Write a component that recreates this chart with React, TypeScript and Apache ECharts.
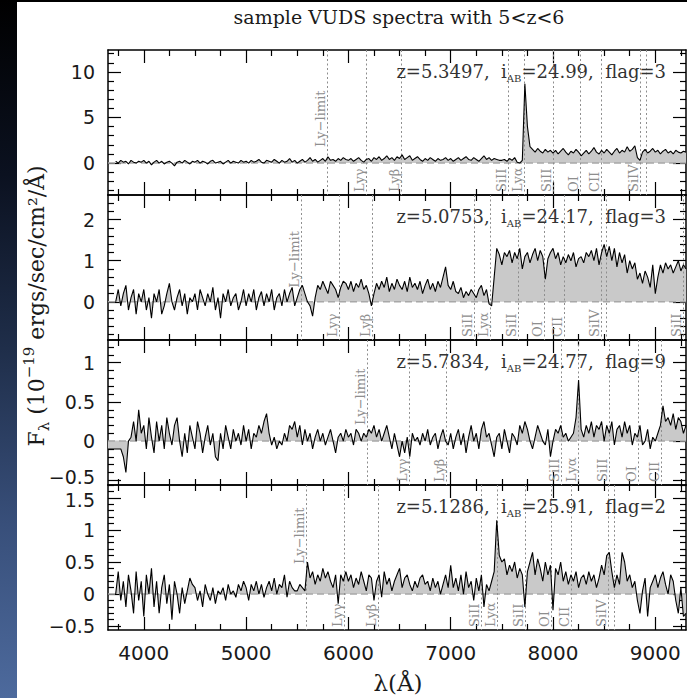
import React, { useEffect, useRef } from "react";
import * as echarts from "echarts";

// ---------------- data ----------------
const WAVE_STEP = 25;
const X_MIN = 3650;
const X_MAX = 9300;

const redshifts = [5.3497, 5.0753, 5.7834, 5.1286];
const magnitudes = ["24.99", "24.17", "24.77", "25.91"];
const flags = ["3", "3", "9", "2"];
const waveStarts = [3725, 3725, 3650, 3725];

const lineNames = ["Ly−limit", "Lyγ", "Lyβ", "SiII", "Lyα", "SiII", "OI", "CII", "SiIV", "", "SiII"];
const lineRest = [912, 972.5, 1025.7, 1190.4, 1215.7, 1260.4, 1302.2, 1334.5, 1393.8, 1402.8, 1526.7];

const xTickMajor = [4000, 5000, 6000, 7000, 8000, 9000];
const xTickMinor = [3750, 4250, 4500, 4750, 5250, 5500, 5750, 6250, 6500, 6750, 7250, 7500, 7750, 8250, 8500, 8750, 9250];

const yRanges = [
  [-3.5, 12.4],
  [-0.93, 2.6],
  [-0.56, 1.29],
  [-0.56, 1.7],
];
const yTickMajor = [
  [0, 5, 10],
  [0, 1, 2],
  [-0.5, 0, 0.5, 1],
  [-0.5, 0, 0.5, 1, 1.5],
];
const yTickMinor = [
  [-3, -2, -1, 1, 2, 3, 4, 6, 7, 8, 9, 11, 12],
  [-0.8, -0.6, -0.4, -0.2, 0.2, 0.4, 0.6, 0.8, 1.2, 1.4, 1.6, 1.8, 2.2, 2.4],
  [-0.4, -0.3, -0.2, -0.1, 0.1, 0.2, 0.3, 0.4, 0.6, 0.7, 0.8, 0.9, 1.1, 1.2],
  [-0.4, -0.3, -0.2, -0.1, 0.1, 0.2, 0.3, 0.4, 0.6, 0.7, 0.8, 0.9, 1.1, 1.2, 1.3, 1.4, 1.6, 1.7],
];

const flux1 = [
  0.2, 0.0, 0.3, 0.1, 0.2, -0.1, 0.3, 0.1, 0.0, 0.2, 0.1,
  0.3, 0.0, 0.2, -0.2, 0.1, 0.3, 0.0, 0.2, -0.1, 0.1,
  0.2, 0.0, -0.3, 0.1, 0.2, 0.0, 0.3, 0.1, -0.1, 0.2,
  0.1, 0.3, 0.0, 0.2, 0.1, -0.1, 0.2, 0.3, 0.0, 0.1,
  0.2, -0.1, 0.1, 0.3, 0.0, 0.2, 0.1, 0.0, 0.3, 0.1,
  0.2, 0.0, 0.3, 0.1, 0.2, 0.4, 0.1, 0.0, 0.3, 0.2,
  0.1, 0.4, 0.2, 0.0, 0.3, 0.1, 0.2, 0.5, 0.1, 0.3,
  0.0, 0.2, 0.4, 0.1, 0.3, 0.6, 0.2, 0.4, 0.1, 0.3,
  0.5, 0.2, 0.7, 0.3, 0.4, 0.2, 0.5, 0.3, 0.6, 0.4,
  0.3, 0.5, 0.2, 0.4, 0.6, 0.3, 0.1, 0.4, 0.5, 0.2,
  0.6, 0.4, 0.7, 0.3, 0.5, 0.8, 0.4, 0.6, 0.3, 0.7,
  0.5, 0.9, 0.4, 0.6, 0.8, 0.3, 0.5, 0.7, 0.4, 0.2,
  0.5, 0.3, 0.6, 0.4, 0.2, 0.5, 0.3, 0.4, 0.6, 0.3,
  0.5, 0.2, 0.4, 0.6, 0.3, 0.5, 0.7, 0.4, 0.3, 0.6,
  0.4, 0.2, 0.5, 0.8, 0.4, 0.6, 0.3, 0.5, 0.4, 0.3,
  0.3, 0.4, 0.2, 0.5, 0.3, 0.6, 0.1, 0.0, 0.3, 8.7,
  4.0, 1.8, 1.5, 1.2, 1.6, 1.3, 1.1, 1.5, 1.2, 1.4,
  1.1, 1.4, 1.0, 1.3, 1.6, 1.2, 0.9, 1.3, 1.1, 1.5,
  1.2, 0.8, 1.1, 1.4, 1.0, 1.3, 1.7, 1.2, 1.0, 1.4,
  1.1, 1.5, 1.2, 0.9, 1.3, 1.6, 1.1, 1.4, 1.2, 1.8,
  1.3, 1.5, 1.9, 0.6, 0.3, 1.2, 1.5, 1.1, 1.3, 1.6,
  1.2, 1.4, 1.0, 1.3, 1.5, 1.1, 1.3, 1.0, 1.4, 1.2, 1.1, 1.3, 1.2,
];

const flux2 = [
  0.0, 0.3, -0.1, 0.2, 0.4, -0.2, 0.1, 0.3, -0.3, 0.2, 0.0,
  0.3, -0.2, 0.1, -0.4, 0.2, 0.0, 0.3, -0.3, -0.1, 0.2,
  0.45, 0.0, -0.2, 0.1, 0.3, -0.1, 0.2, -0.3, 0.1, 0.0,
  0.2, -0.2, 0.3, 0.1, -0.1, 0.2, 0.0, 0.35, -0.2, 0.1,
  -0.4, 0.2, 0.0, 0.3, -0.1, 0.1, 0.2, -0.2, 0.0, 0.3,
  -0.1, 0.2, 0.0, 0.3, -0.2, 0.1, 0.25, -0.1, 0.2, 0.0,
  0.3, -0.2, 0.1, 0.2, -0.1, 0.3, 0.0, 0.2, 0.35, -0.1,
  0.1, 0.3, 0.4, 0.2, 0.0, -0.1, -0.35, 0.1, 0.4, 0.3,
  0.5, 0.35, 0.2, 0.5, 0.4, 0.3, 0.1, 0.35, 0.5, 0.45,
  0.3, 0.5, 0.25, 0.45, 0.35, 0.55, 0.3, 0.4, 0.2, -0.1,
  0.2, 0.45, 0.3, 0.5, 0.35, 0.6, 0.25, 0.45, 0.3, 0.55,
  0.4, 0.3, 0.5, 0.25, 0.6, 0.35, 0.45, 0.3, 0.5, 0.2,
  0.4, 0.55, 0.3, 0.45, 0.25, 0.5, 0.35, 0.6, 0.85, 0.4,
  0.3, 0.5, 0.25, 0.2, 0.35, 0.1, 0.25, 0.15, 0.3, 0.2,
  0.1, 0.3, 0.4, 0.15, 0.3, -0.05, -0.1, 0.6, 1.3, 1.15,
  0.9, 1.2, 1.1, 1.25, 0.95, 1.2, 1.05, 1.3, 0.8, 1.1,
  1.2, 0.95, 1.15, 1.3, 1.0, 1.25, 1.1, 0.55, 1.05, 1.2,
  1.3, 1.05, 1.2, 0.9, 1.1, 0.95, 1.15, 1.0, 1.2, 0.85,
  1.05, 1.1, 0.95, 1.2, 1.1, 1.25, 1.0, 1.3, 0.9, 1.2,
  1.4, 1.1, 1.35, 1.0, 1.3, 0.85, 1.2, 0.95, 1.15, 0.7,
  1.0, 0.8, 0.95, 0.55, 0.7, 0.45, 0.75, 0.6, 0.35, 0.9,
  0.2, 0.6, 0.9, 0.7, 0.95, 0.8, 0.9, 0.7, 0.85, 1.0, 0.75, 0.9, 0.8,
];

const flux3 = [
  -0.1, -0.1, -0.1, -0.1, -0.1, -0.1, -0.2, -0.4, 0.0, 0.05, 0.25, 0.0, 0.4, 0.1,
  0.2, -0.1, 0.3, 0.05, -0.15, 0.25, 0.0, 0.2, -0.1, 0.3,
  0.1, -0.05, 0.2, 0.3, 0.0, -0.2, 0.1, -0.15, 0.2, 0.05,
  -0.1, 0.25, 0.1, -0.15, 0.05, 0.2, -0.05, 0.1, -0.2, -0.25,
  0.1, -0.1, 0.2, 0.05, -0.1, 0.15, 0.0, 0.1, -0.05, 0.2,
  0.0, 0.15, -0.1, 0.1, 0.05, 0.2, 0.1, 0.25, 0.35, 0.1,
  -0.05, 0.05, -0.1, 0.0, -0.05, 0.1, 0.0, 0.2, 0.15, 0.25,
  0.05, 0.2, -0.05, 0.15, 0.0, 0.1, -0.1, 0.05, 0.15, 0.0,
  0.1, -0.05, 0.05, 0.15, 0.0, -0.15, 0.05, 0.1, 0.0, 0.15,
  0.05, 0.1, -0.05, 0.15, 0.1, 0.0, 0.1, 0.05, 0.15, 0.1,
  0.2, 0.05, 0.15, 0.0, 0.1, 0.2, 0.05, -0.1, 0.1, -0.05,
  -0.2, 0.0, -0.15, 0.05, -0.2, 0.1, 0.0, 0.05, -0.05, 0.1,
  0.0, 0.15, -0.05, 0.05, 0.1, -0.1, 0.05, 0.15, 0.0, -0.05,
  0.1, -0.1, 0.05, 0.15, -0.05, 0.1, -0.15, 0.05, 0.2, 0.0,
  0.1, -0.1, 0.15, 0.25, 0.05, 0.1, -0.05, -0.2, 0.05, 0.1,
  -0.1, 0.15, 0.0, -0.15, 0.1, 0.05, -0.05, 0.2, 0.1, 0.25,
  0.15, 0.0, -0.1, 0.05, 0.2, 0.1, 0.0, -0.05, 0.15, -0.2,
  0.0, 0.15, 0.1, 0.2, 0.05, 0.1, 0.0, 0.05, 0.1, 0.3,
  0.78, 0.15, 0.05, 0.2, 0.1, 0.25, 0.05, 0.2, 0.15, 0.25,
  0.0, 0.2, 0.1, 0.25, -0.05, 0.15, 0.2, 0.05, 0.25, 0.1,
  0.2, -0.05, 0.1, 0.05, 0.2, -0.05, 0.0, 0.15, -0.1, 0.05,
  0.0, 0.1, 0.2, 0.45, 0.25, 0.3, 0.2, 0.35, 0.15, 0.3, 0.25, 0.1, 0.2,
];

const flux4 = [
  0.0, 0.35, -0.1, 0.2, -0.2, 0.3, 0.05, -0.3, 0.35, -0.1, 0.2,
  -0.35, 0.3, 0.0, 0.4, -0.2, 0.2, -0.3, 0.1, 0.3, -0.15,
  0.15, -0.4, 0.2, 0.0, -0.3, 0.1, -0.15, 0.05, 0.25, 0.15,
  0.1, -0.1, 0.05, -0.2, 0.15, 0.0, -0.1, 0.1, -0.15, 0.05,
  0.0, 0.1, -0.1, 0.15, 0.0, 0.05, -0.05, 0.15, 0.05, 0.2,
  0.1, -0.1, 0.15, 0.05, 0.2, 0.0, 0.15, -0.05, 0.1, 0.2,
  0.05, 0.25, 0.0, 0.15, 0.1, 0.3, -0.05, 0.2, 0.1, 0.05,
  0.05, 0.15, 0.1, 0.05, 0.5, 0.25, 0.35, 0.15, 0.3, 0.2,
  0.4, 0.25, 0.35, 0.2, 0.1, 0.3, -0.15, 0.3, 0.2, 0.35,
  0.2, 0.3, 0.1, 0.25, 0.15, 0.35, 0.2, 0.05, 0.3, 0.25,
  -0.1, 0.2, 0.3, -0.05, 0.35, 0.15, 0.25, 0.05, 0.2, 0.3,
  0.4, 0.1, 0.25, 0.3, 0.15, 0.05, 0.2, 0.1, 0.25, 0.3,
  0.15, 0.2, 0.05, 0.25, 0.1, 0.2, 0.0, 0.15, 0.3, 0.1,
  0.45, 0.1, 0.25, 0.05, 0.3, 0.0, 0.35, 0.1, 0.2, -0.1,
  0.25, 0.05, 0.3, -0.2, 0.15, 0.05, 0.2, 0.35, 1.15, 0.6,
  0.5, 0.55, 0.3, 0.45, 0.35, 0.5, 0.25, 0.4, 0.3, -0.2,
  0.35, 0.5, 0.65, 0.3, 0.55, 0.4, 0.2, 0.5, 0.3, 0.45,
  -0.25, 0.4, 0.3, 0.5, 0.2, 0.35, 0.15, 0.3, 0.2, 0.35,
  0.1, 0.25, 0.3, 0.15, 0.35, 0.2, 0.3, 0.1, 0.25, 0.45,
  0.3, 0.6, 0.65, 0.35, 0.1, 0.3, 0.15, 0.65, 0.5, 0.2,
  0.3, 0.1, 0.2, -0.1, -0.3, 0.05, 0.25, -0.35, 0.1, 0.2,
  0.3, 0.1, 0.25, 0.35, 0.15, 0.0, 0.3, 0.2, -0.1, -0.3, 0.1, -0.35, -0.3,
];

const fluxes = [flux1, flux2, flux3, flux4];

// ---------------- layout / style ----------------
const GRID_LEFT = 108;
const GRID_WIDTH = 578;
const GRID_TOP = 50;
const PANEL_H = 145;
const LIMIT_LABEL_LIFT = [16, 14, 16, 30];
const SERIF = '"DejaVu Serif", "Liberation Serif", serif';
const SANS = '"DejaVu Sans", "Liberation Sans", sans-serif';
const LINE_GRAY = "#8e8e8e";
const TEXT_DARK = "#1a1a1a";
const Y_LABEL_SIZE = 19;

const fmt = (v: number) => (v < 0 ? "−" + String(Math.abs(v)) : String(v));

function buildOption() {
  const grid: any[] = [];
  const xAxis: any[] = [];
  const yAxis: any[] = [];
  const series: any[] = [];

  for (let g = 0; g < 4; g++) {
    grid.push({ left: GRID_LEFT, width: GRID_WIDTH, top: GRID_TOP + g * PANEL_H, height: PANEL_H });
    const tickStyle = { color: "#000", width: 1.2 };
    const xBase = { gridIndex: g, type: "value", min: X_MIN, max: X_MAX, splitLine: { show: false } };
    (["bottom", "top"] as const).forEach((pos) => {
      xAxis.push({
        ...xBase,
        position: pos,
        axisLine: { show: true, onZero: false, lineStyle: { color: "#000", width: 1.5 } },
        axisTick: { show: true, inside: true, length: 13, customValues: xTickMajor, lineStyle: tickStyle },
        axisLabel: {
          show: pos === "bottom" && g === 3,
          customValues: xTickMajor,
          formatter: (v: number) => String(v),
          margin: 13,
          color: TEXT_DARK,
          fontSize: 20,
          fontFamily: SANS,
        },
      });
      xAxis.push({
        ...xBase,
        position: pos,
        axisLine: { show: false, onZero: false },
        axisTick: { show: true, inside: true, length: 6, customValues: xTickMinor, lineStyle: tickStyle },
        axisLabel: { show: false },
      });
    });
    const [yMin, yMax] = yRanges[g];
    const span = yMax - yMin;
    const yBase = { gridIndex: g, type: "value", min: yMin, max: yMax, splitLine: { show: false } };
    const labelFmt = (v: number) => {
      const s = fmt(v);
      const fromBottom = ((v - yMin) / span) * PANEL_H;
      const fromTop = ((yMax - v) / span) * PANEL_H;
      if (g < 3 && fromBottom < 9) return `{lo|${s}}`;
      if (g > 0 && fromTop < 14) return `{hi|${s}}`;
      return s;
    };
    const tokenBase = { fontSize: Y_LABEL_SIZE, fontFamily: SANS, color: TEXT_DARK };
    (["left", "right"] as const).forEach((pos) => {
      yAxis.push({
        ...yBase,
        position: pos,
        axisLine: { show: true, onZero: false, lineStyle: { color: "#000", width: 1.5 } },
        axisTick: { show: true, inside: true, length: 13, customValues: yTickMajor[g], lineStyle: tickStyle },
        axisLabel: {
          show: pos === "left",
          customValues: yTickMajor[g],
          formatter: labelFmt,
          margin: 13,
          color: TEXT_DARK,
          fontSize: Y_LABEL_SIZE,
          fontFamily: SANS,
          rich: {
            lo: { ...tokenBase, padding: [0, 0, 6, 0] },
            hi: { ...tokenBase, padding: [5, 0, 0, 0] },
          },
        },
      });
      yAxis.push({
        ...yBase,
        position: pos,
        axisLine: { show: false, onZero: false },
        axisTick: { show: true, inside: true, length: 6, customValues: yTickMinor[g], lineStyle: tickStyle },
        axisLabel: { show: false },
      });
    });

    const start = waveStarts[g];
    const data = fluxes[g].map((f, i) => [start + i * WAVE_STEP, f]);
    const axisRef = { xAxisIndex: g * 4, yAxisIndex: g * 4 };

    series.push({
      ...axisRef,
      type: "line",
      data,
      showSymbol: false,
      silent: true,
      z: 1,
      lineStyle: { width: 0, opacity: 0 },
      areaStyle: { color: "#c9c9c9", opacity: 1, origin: 0 },
    });
    series.push({
      ...axisRef,
      type: "line",
      data: [
        [X_MIN, 0],
        [X_MAX, 0],
      ],
      showSymbol: false,
      silent: true,
      z: 2,
      lineStyle: { color: "#a8a8a8", width: 1.5, type: [7, 4] },
    });

    const z1 = 1 + redshifts[g];
    const lineIdx: number[] = [];
    const lineData: any[] = [];
    lineRest.forEach((r, i) => {
      const obs = r * z1;
      if (obs > X_MIN && obs < X_MAX) {
        lineIdx.push(i);
        lineData.push([obs, 0]);
      }
    });
    const lift = LIMIT_LABEL_LIFT[g];
    series.push({
      ...axisRef,
      type: "custom",
      data: lineData,
      silent: true,
      z: 3,
      renderItem: (params: any, api: any) => {
        const cs = params.coordSys;
        const idx = lineIdx[params.dataIndex];
        const p = api.coord([api.value(0), 0]);
        const x = Math.round(p[0]) + 0.5;
        const zeroY = p[1];
        const top = cs.y;
        const bottom = cs.y + cs.height;
        const children: any[] = [
          {
            type: "line",
            shape: { x1: x, y1: top, x2: x, y2: bottom },
            style: { stroke: LINE_GRAY, lineWidth: 1, lineDash: [2, 2.5] },
          },
        ];
        const name = lineNames[idx];
        if (name) {
          const isLimit = idx === 0;
          children.push({
            type: "text",
            x: x - 1,
            y: isLimit ? zeroY - lift : bottom - 3,
            rotation: Math.PI / 2,
            style: {
              text: name,
              fill: LINE_GRAY,
              font: `13px ${SERIF}`,
              align: "left",
              verticalAlign: "bottom",
            },
          });
        }
        return { type: "group", children };
      },
    });

    series.push({
      ...axisRef,
      type: "line",
      data,
      showSymbol: false,
      silent: true,
      z: 4,
      lineStyle: { color: "#000", width: 1.1 },
    });
  }

  const graphic: any[] = [
    {
      type: "text",
      x: 399,
      y: 17,
      style: {
        text: "sample VUDS spectra with 5<z<6",
        font: `19px ${SERIF}`,
        fill: TEXT_DARK,
        align: "center",
        verticalAlign: "middle",
        textAlign: "center",
        textVerticalAlign: "middle",
      },
    },
    {
      type: "text",
      x: 398,
      y: 683,
      style: {
        text: "λ(Å)",
        font: `23px ${SERIF}`,
        fill: TEXT_DARK,
        align: "center",
        verticalAlign: "middle",
        textAlign: "center",
        textVerticalAlign: "middle",
      },
    },
    {
      type: "text",
      x: 36,
      y: 306,
      rotation: Math.PI / 2,
      style: {
        text: "{t|F}{s|λ}{t| (10}{p|−19}{t| ergs/sec/cm²/Å)}",
        font: `22px ${SERIF}`,
        fill: TEXT_DARK,
        align: "center",
        verticalAlign: "middle",
        textAlign: "center",
        textVerticalAlign: "middle",
        rich: {
          t: { fontSize: 22, fontFamily: SERIF, lineHeight: 30, verticalAlign: "middle", fill: TEXT_DARK },
          s: { fontSize: 15, fontFamily: SERIF, lineHeight: 16, verticalAlign: "bottom", fill: TEXT_DARK },
          p: { fontSize: 15, fontFamily: SERIF, lineHeight: 16, verticalAlign: "top", fill: TEXT_DARK },
        },
      },
    },
  ];

  for (let g = 0; g < 4; g++) {
    graphic.push({
      type: "text",
      x: 666,
      y: GRID_TOP + g * PANEL_H + 21,
      z: 10,
      style: {
        text: `{t|z=${redshifts[g].toFixed(4)},  i}{s|AB}{t|=${magnitudes[g]},  flag=${flags[g]}}`,
        font: `18px ${SERIF}`,
        fill: "#333",
        align: "right",
        verticalAlign: "middle",
        textAlign: "right",
        textVerticalAlign: "middle",
        rich: {
          t: { fontSize: 18, fontFamily: SERIF, lineHeight: 24, verticalAlign: "middle", fill: "#333" },
          s: { fontSize: 10, fontFamily: SERIF, lineHeight: 12, verticalAlign: "bottom", fill: "#333" },
        },
      },
    });
  }

  return {
    animation: false,
    backgroundColor: "transparent",
    grid,
    xAxis,
    yAxis,
    series,
    graphic,
  };
}

export default function App() {
  const ref = useRef<HTMLDivElement>(null);
  useEffect(() => {
    if (!ref.current) return;
    const chart = echarts.init(ref.current, undefined, { renderer: "svg" });
    chart.setOption(buildOption() as any);
    return () => chart.dispose();
  }, []);
  return (
    <div style={{ position: "fixed", left: 0, top: 0, width: 687, height: 698, background: "#000", overflow: "hidden" }}>
      <div
        style={{
          position: "absolute",
          left: 0,
          top: 0,
          width: 17,
          height: 698,
          background: "linear-gradient(to bottom, #000 0%, #0b1120 25%, #1f2e4a 50%, #384f7a 75%, #4d6a9d 100%)",
        }}
      />
      <div style={{ position: "absolute", left: 17, top: 2, width: 670, height: 696, background: "#fff" }} />
      <div ref={ref} style={{ position: "absolute", left: 0, top: 0, width: 687, height: 698 }} />
    </div>
  );
}
